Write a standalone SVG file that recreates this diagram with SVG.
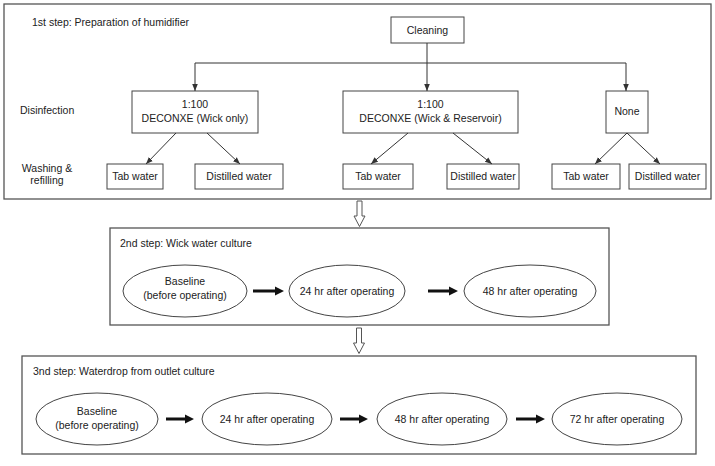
<svg xmlns="http://www.w3.org/2000/svg" width="715" height="466" viewBox="0 0 715 466">
<defs>
<style>
text{font-family:"Liberation Sans",Arial,sans-serif;font-size:10.5px;fill:#222}
.c{text-anchor:middle}
.panel{fill:#fff;stroke:#555;stroke-width:1.3}
.box{fill:#fff;stroke:#444;stroke-width:1}
.ell{fill:#fff;stroke:#444;stroke-width:1}
.ln{fill:none;stroke:#333;stroke-width:1}
.thick{fill:#111;stroke:none}
.hollow{fill:#fff;stroke:#555;stroke-width:1}
</style>
<marker id="ah" viewBox="0 0 10 10" refX="10" refY="5" markerWidth="7" markerHeight="7" orient="auto" markerUnits="userSpaceOnUse">
<path d="M0,1 L10,5 L0,9 Z" fill="#333"/>
</marker>
</defs>
<rect width="715" height="466" fill="#fff"/>

<g id="panel1">
<rect class="panel" x="4" y="4" width="707" height="195"/>
<text x="32" y="26">1st step: Preparation of humidifier</text>
<text x="20" y="114">Disinfection</text>
<text class="c" x="47" y="172">Washing &amp;</text>
<text class="c" x="47" y="184">refilling</text>
</g>

<g id="cleaning"><rect class="box" x="391" y="17" width="73" height="26"/><text class="c" x="427.5" y="34">Cleaning</text></g>
<g id="wickonly"><rect class="box" x="132" y="91" width="126" height="42"/><text class="c" x="195" y="108">1:100</text><text class="c" x="195" y="122">DECONXE (Wick only)</text></g>
<g id="wickres"><rect class="box" x="343" y="91" width="175" height="42"/><text class="c" x="430.5" y="108">1:100</text><text class="c" x="430.5" y="122">DECONXE (Wick &amp; Reservoir)</text></g>
<g id="none"><rect class="box" x="606" y="91" width="42" height="42"/><text class="c" x="627" y="115">None</text></g>

<g id="tab1"><rect class="box" x="107" y="164" width="56" height="25"/><text class="c" x="135" y="180">Tab water</text></g>
<g id="dist1"><rect class="box" x="195" y="164" width="88" height="25"/><text class="c" x="239" y="180">Distilled water</text></g>
<g id="tab2"><rect class="box" x="343" y="164" width="70" height="25"/><text class="c" x="378" y="180">Tab water</text></g>
<g id="dist2"><rect class="box" x="447" y="164" width="72" height="25"/><text class="c" x="483" y="180">Distilled water</text></g>
<g id="tab3"><rect class="box" x="552" y="164" width="68" height="25"/><text class="c" x="586" y="180">Tab water</text></g>
<g id="dist3"><rect class="box" x="629" y="164" width="77" height="25"/><text class="c" x="667.5" y="180">Distilled water</text></g>

<g id="panel2">
<rect class="panel" x="110" y="228" width="499" height="97"/>
<text x="120" y="247">2nd step: Wick water culture</text>
</g>
<g id="s2base"><ellipse class="ell" cx="185" cy="291" rx="62" ry="26"/><text class="c" x="185" y="285">Baseline</text><text class="c" x="185" y="299">(before operating)</text></g>
<g id="s2h24"><ellipse class="ell" cx="347" cy="291" rx="58" ry="26"/><text class="c" x="347" y="295">24 hr after operating</text></g>
<g id="s2h48"><ellipse class="ell" cx="530" cy="291" rx="66" ry="26"/><text class="c" x="530" y="295">48 hr after operating</text></g>

<g id="panel3">
<rect class="panel" x="22" y="356" width="674" height="98"/>
<text x="33" y="375">3nd step: Waterdrop from outlet culture</text>
</g>
<g id="s3base"><ellipse class="ell" cx="97" cy="419" rx="61" ry="26"/><text class="c" x="97" y="415">Baseline</text><text class="c" x="97" y="429">(before operating)</text></g>
<g id="s3h24"><ellipse class="ell" cx="267" cy="419" rx="65" ry="26"/><text class="c" x="267" y="423">24 hr after operating</text></g>
<g id="s3h48"><ellipse class="ell" cx="442" cy="419" rx="65" ry="26"/><text class="c" x="442" y="423">48 hr after operating</text></g>
<g id="s3h72"><ellipse class="ell" cx="617" cy="419" rx="65" ry="26"/><text class="c" x="617" y="423">72 hr after operating</text></g>

<g id="connectors">
<path class="ln" d="M427,43 V91" marker-end="url(#ah)"/>
<path class="ln" d="M195,63 H626"/>
<path class="ln" d="M195,63 V91" marker-end="url(#ah)"/>
<path class="ln" d="M626,63 V91" marker-end="url(#ah)"/>
<path class="ln" d="M176,133 L146,164" marker-end="url(#ah)"/>
<path class="ln" d="M207,133 L240,164" marker-end="url(#ah)"/>
<path class="ln" d="M408,133 L371,164" marker-end="url(#ah)"/>
<path class="ln" d="M453,133 L492,164" marker-end="url(#ah)"/>
<path class="ln" d="M627,133 L595,164" marker-end="url(#ah)"/>
<path class="ln" d="M627,133 L660,164" marker-end="url(#ah)"/>

<path class="hollow" d="M357,201 H362 V216 H365 L359.5,226.5 L354,216 H357 Z"/>
<path class="hollow" d="M356.5,328 H361.5 V343 H364.5 L359,353.5 L353.5,343 H356.5 Z"/>

<path class="thick" d="M253,289.5 H275 V286.5 L284,291 L275,295.5 V292.5 H253 Z"/>
<path class="thick" d="M428,289.5 H449 V286.5 L458,291 L449,295.5 V292.5 H428 Z"/>

<path class="thick" d="M166,417.5 H185 V414.5 L194,419 L185,423.5 V420.5 H166 Z"/>
<path class="thick" d="M340,417.5 H359 V414.5 L368,419 L359,423.5 V420.5 H340 Z"/>
<path class="thick" d="M516,417.5 H536 V414.5 L545,419 L536,423.5 V420.5 H516 Z"/>
</g>
</svg>
